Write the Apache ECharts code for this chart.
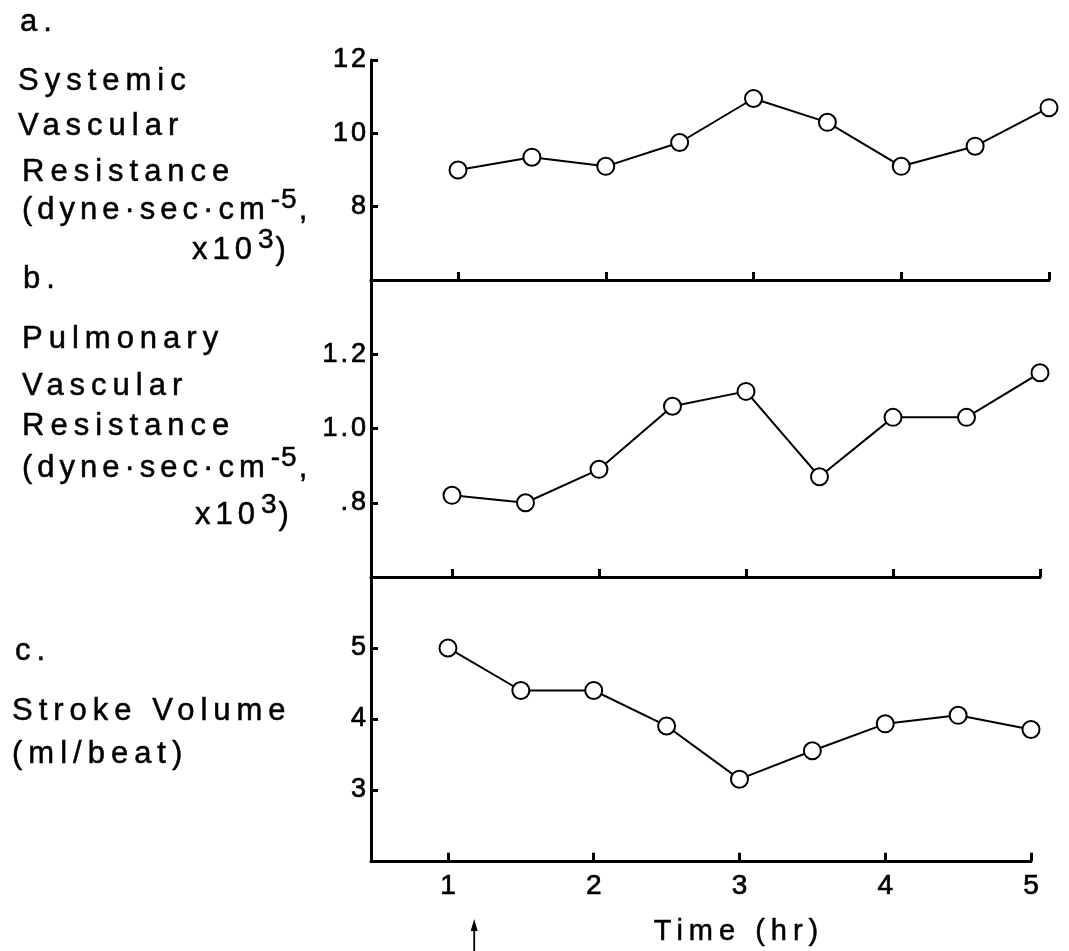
<!DOCTYPE html>
<html><head><meta charset="utf-8">
<style>html,body{margin:0;padding:0;background:#fff}#c{width:1069px;height:951px}</style>
</head><body><div id="c"></div>
<script>
(function(){
  var P = CanvasRenderingContext2D.prototype;
  var d = Object.getOwnPropertyDescriptor(P,'font');
  if (d && d.set && ('letterSpacing' in P)) {
    Object.defineProperty(P,'font',{configurable:true,
      get:function(){return d.get.call(this);},
      set:function(v){d.set.call(this,v);var m=/lsw(\d+(?:\.\d+)?)/.exec(v);try{this.letterSpacing=(m?m[1]:'0')+'px';}catch(e){}}});
  }
})();
</script>
<script src="https://cdn.jsdelivr.net/npm/echarts@6/dist/echarts.min.js"></script>
<script>
// ---- data ----
const timeHr = [1, 1.5, 2, 2.5, 3, 3.5, 4, 4.5, 5];
const systemicVR = [9.0, 9.35, 9.1, 9.75, 10.95, 10.3, 9.1, 9.65, 10.7];
const pulmonaryVR = [0.82, 0.80, 0.89, 1.06, 1.10, 0.87, 1.03, 1.03, 1.15];
const strokeVolume = [5.0, 4.4, 4.4, 3.9, 3.15, 3.55, 3.93, 4.05, 3.85];
const xTicks = [1, 2, 3, 4, 5];
const xTickLabels = ['1', '2', '3', '4', '5'];
const svrTicks = [8, 10, 12];
const svrTickLabels = ['8', '10', '12'];
const pvrTicks = [0.8, 1.0, 1.2];
const pvrTickLabels = ['.8', '1.0', '1.2'];
const svTicks = [3, 4, 5];
const svTickLabels = ['3', '4', '5'];
const arrowTime = 1.18;

const WIDE = "lsw6, 'Liberation Sans', Arial, sans-serif";
const MIDF = "lsw5, 'Liberation Sans', Arial, sans-serif";
const SUPF = "lsw1, 'Liberation Sans', Arial, sans-serif";
const TICKF = "lsw3, 'Liberation Sans', Arial, sans-serif";
const PLAINF = "'Liberation Sans', Arial, sans-serif";
const LBL_SIZE = 31;

function labelFor(ticks, labels) {
  return function (v) {
    for (let i = 0; i < ticks.length; i++) if (Math.abs(ticks[i] - v) < 1e-6) return labels[i];
    return '';
  };
}

// the scanned figure is slightly sheared: each panel's time scale is offset a little
const grids = [
  { left: 371, width: 678, top: 60, height: 220 },
  { left: 371, width: 669, top: 280, height: 297 },
  { left: 371, width: 660, top: 577, height: 295 }
];
const xMins = [0.411, 0.449, 0.472];

const axisLineStyle = { color: '#000', width: 3 };

const xAxes = [0, 1, 2].map(i => ({
  type: 'value', gridIndex: i, min: xMins[i], max: 5,
  axisLine: { show: true, onZero: false, lineStyle: axisLineStyle },
  axisTick: { show: true, inside: true, length: 8, customValues: xTicks, lineStyle: { color: '#000', width: 3 } },
  axisLabel: {
    show: i === 2, customValues: xTicks, formatter: labelFor(xTicks, xTickLabels),
    color: '#000', fontSize: 28, fontFamily: PLAINF, margin: 12,
    textBorderColor: '#000', textBorderWidth: 0.7
  },
  splitLine: { show: false },
  name: i === 2 ? 'Time (hr)' : '',
  nameLocation: 'middle', nameGap: 54,
  nameTextStyle: { color: '#000', fontSize: 29, fontFamily: WIDE, padding: [0, 0, 0, 76], textBorderColor: '#000', textBorderWidth: 0.5 }
}));

function yAx(i, min, max, ticks, labels) {
  return {
    type: 'value', gridIndex: i, min: min, max: max,
    axisLine: { show: true, onZero: false, lineStyle: axisLineStyle },
    axisTick: { show: true, inside: true, length: 7, customValues: ticks, lineStyle: { color: '#000', width: 3 } },
    axisLabel: { show: true, customValues: ticks, formatter: labelFor(ticks, labels), color: '#000', fontSize: 27, fontFamily: TICKF, margin: 2, textBorderColor: '#000', textBorderWidth: 0.7 },
    splitLine: { show: false }
  };
}

const yAxes = [
  yAx(0, 6, 12, svrTicks, svrTickLabels),
  yAx(1, 0.6, 1.4, pvrTicks, pvrTickLabels),
  yAx(2, 2, 6, svTicks, svTickLabels)
];

function ser(i, vals) {
  return {
    type: 'line', xAxisIndex: i, yAxisIndex: i,
    data: timeHr.map((t, k) => [t, vals[k]]),
    symbol: 'circle', symbolSize: 17, clip: false, silent: true,
    itemStyle: { color: '#fff', borderColor: '#000', borderWidth: 2 },
    lineStyle: { color: '#000', width: 2 },
    z: 3
  };
}

const rich = {
  b: { fontSize: LBL_SIZE, fontFamily: MIDF, fill: '#000', stroke: '#000', lineWidth: 0.5, verticalAlign: 'bottom' },
  s: { fontSize: 28, fontFamily: SUPF, fill: '#000', stroke: '#000', lineWidth: 0.5, verticalAlign: 'bottom', padding: [0, 1, 14, 1] }
};

function txt(x, y, text) {
  return { type: 'text', x: x, y: y, silent: true,
    style: { text: text, fill: '#000', stroke: '#000', lineWidth: 0.5, font: LBL_SIZE + 'px ' + WIDE, textAlign: 'left', verticalAlign: 'middle' } };
}
function rtxt(x, y, text) {
  return { type: 'text', x: x, y: y, silent: true,
    style: { text: text, fill: '#000', font: LBL_SIZE + 'px ' + WIDE, textAlign: 'left', verticalAlign: 'middle', rich: rich } };
}

const leftLabels = [
  txt(20, 22, 'a.'),
  txt(18, 81, 'Systemic'),
  txt(18, 126, 'Vascular'),
  txt(22, 172, 'Resistance'),
  rtxt(22, 207, '{b|(dyne·sec·cm}{s|-5}{b|,}'),
  rtxt(192, 247, '{b|x10}{s|3}{b|)}'),
  txt(23, 279, 'b.'),
  txt(22, 339, 'Pulmonary'),
  txt(22, 386, 'Vascular'),
  txt(22, 426, 'Resistance'),
  rtxt(22, 465, '{b|(dyne·sec·cm}{s|-5}{b|,}'),
  rtxt(195, 512, '{b|x10}{s|3}{b|)}'),
  txt(15, 651, 'c.'),
  txt(12, 711, 'Stroke Volume'),
  txt(12, 754, '(ml/beat)')
];

const chart = echarts.init(document.getElementById('c'), null, { renderer: 'canvas' });
chart.setOption({
  animation: false,
  backgroundColor: '#fff',
  grid: grids,
  xAxis: xAxes,
  yAxis: yAxes,
  series: [ser(0, systemicVR), ser(1, pulmonaryVR), ser(2, strokeVolume)],
  graphic: leftLabels
});

const ax = chart.convertToPixel({ xAxisIndex: 2 }, arrowTime);
chart.setOption({
  graphic: leftLabels.concat([
    { type: 'line', silent: true, shape: { x1: ax, y1: 951, x2: ax, y2: 928 }, style: { stroke: '#000', lineWidth: 1.8 } },
    { type: 'polygon', silent: true, shape: { points: [[ax, 919], [ax - 3.5, 931], [ax + 3.5, 931]] }, style: { fill: '#000' } }
  ])
});
</script>
</body></html>
